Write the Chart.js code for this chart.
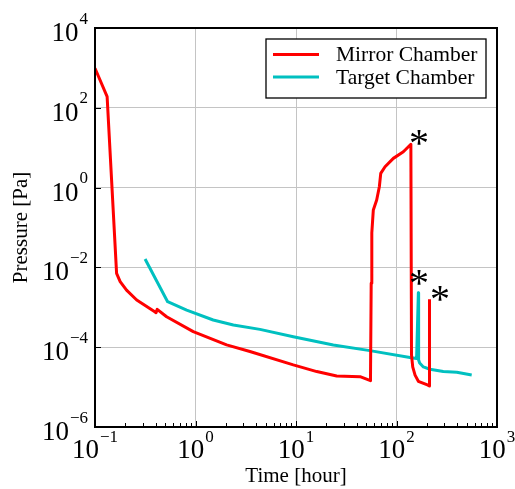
<!DOCTYPE html>
<html>
<head>
<meta charset="utf-8">
<script src="https://cdn.jsdelivr.net/npm/chart.js@4"></script>
<style>
html, body { margin: 0; padding: 0; background: #fff; }
</style>
</head>
<body>
<canvas id="pressureChart" width="515" height="489"></canvas>
<script>
// values (time in hours, pressure in Pa)
var mirrorTime = [0.1, 0.132, 0.164, 0.178, 0.206, 0.26, 0.39, 0.405, 0.416, 0.516, 0.95, 2.04, 3.48,
    9.4, 16.1, 25.4, 43.4, 55.1, 56.0, 56.8, 58.8, 63.5, 67.5, 69.7, 76.9, 93, 117, 139,
    141, 145, 153, 165, 203, 212, 213];
var mirrorPressure = [980, 190, 0.0071, 0.0044, 0.0027, 0.00152, 0.00078, 0.00073, 0.00089, 0.00058, 0.000245, 0.000114, 7.8e-5,
    3.6e-5, 2.45e-5, 1.9e-5, 1.83e-5, 1.45e-5, 0.004, 0.073, 0.275, 0.49, 1.05, 2.28, 3.34, 5.4, 7.9, 12.2,
    6.4e-5, 3.2e-5, 2.0e-5, 1.4e-5, 1.13e-5, 1.07e-5, 0.0016];

var targetTime = [0.315, 0.528, 0.817, 1.5, 2.38, 4.38, 9.4, 23.5, 54.4, 136, 158.5, 165, 166,
    170, 185, 215, 292, 398, 560];
var targetPressure = [0.0162, 0.00138, 0.00085, 0.00048, 0.00036, 0.00028, 0.000183, 0.000114, 8.2e-5, 5.5e-5, 5.2e-5, 0.0023, 4.8e-5,
    4.0e-5, 3.2e-5, 2.8e-5, 2.45e-5, 2.35e-5, 2.0e-5];

var seriesLabels = ["Mirror Chamber", "Target Chamber"];
var seriesColors = ["#ff0000", "#00c0c0"];

var xTickValues = [0.1, 1, 10, 100, 1000];
var yTickValues = [1e-6, 1e-4, 1e-2, 1, 1e2, 1e4];

// asterisk marks next to the spikes
var starTime = [167.5, 167.5, 271];
var starPressure = [18.2, 0.00585, 0.00224];

var serif = "'Liberation Serif', 'Times New Roman', serif";

function toPoints(xs, ys) {
    var pts = [];
    for (var i = 0; i < xs.length; i++) pts.push({ x: xs[i], y: ys[i] });
    return pts;
}

function expText(v) {
    var e = Math.round(Math.log10(v));
    return e < 0 ? "\u2212" + (-e) : String(e);
}

var decorPlugin = {
    id: "decor",
    afterDraw: function (chart) {
        var ctx = chart.ctx;
        var area = chart.chartArea;
        var xs = chart.scales.x, ys = chart.scales.y;
        ctx.save();

        // frame
        ctx.strokeStyle = "#000";
        ctx.lineWidth = 2;
        ctx.strokeRect(area.left, area.top, area.right - area.left, area.bottom - area.top);

        // inward ticks
        ctx.lineWidth = 1;
        for (var k = -1; k < 3; k++) {
            for (var m = 1; m < 10; m++) {
                var px = Math.round(xs.getPixelForValue(m * Math.pow(10, k))) + 0.5;
                var len = m === 1 ? 6 : 4;
                ctx.beginPath();
                ctx.moveTo(px, area.bottom);
                ctx.lineTo(px, area.bottom - len);
                ctx.stroke();
            }
        }
        yTickValues.forEach(function (v) {
            var py = Math.round(ys.getPixelForValue(v)) + 0.5;
            ctx.beginPath();
            ctx.moveTo(area.left, py);
            ctx.lineTo(area.left + 6, py);
            ctx.stroke();
        });

        // tick labels, 10 with a raised exponent
        var bigFont = "27px " + serif, smallFont = "17px " + serif;
        ctx.fillStyle = "#000";
        ctx.textBaseline = "alphabetic";
        yTickValues.forEach(function (v) {
            var py = ys.getPixelForValue(v);
            var ex = expText(v);
            var right = area.left - 7;
            ctx.font = smallFont;
            ctx.textAlign = "right";
            var ew = ctx.measureText(ex).width;
            ctx.fillText(ex, right, py - 4.5);
            ctx.font = bigFont;
            ctx.fillText("10", right - ew - 1, py + 13);
        });
        xTickValues.forEach(function (v) {
            var px = xs.getPixelForValue(v);
            var ex = expText(v);
            ctx.font = bigFont;
            var bw = ctx.measureText("10").width;
            ctx.font = smallFont;
            var ew = ctx.measureText(ex).width;
            var start = px - (bw + 1 + ew) / 2;
            ctx.textAlign = "left";
            ctx.font = bigFont;
            ctx.fillText("10", start, area.bottom + 31);
            ctx.font = smallFont;
            ctx.fillText(ex, start + bw + 1, area.bottom + 14.5);
        });

        // legend box in the upper right
        var lx = 266, ly = 39, lw = 220, lh = 59;
        ctx.fillStyle = "#fff";
        ctx.fillRect(lx, ly, lw, lh);
        ctx.strokeStyle = "#000";
        ctx.lineWidth = 1.3;
        ctx.strokeRect(lx, ly, lw, lh);
        ctx.font = "21.5px " + serif;
        ctx.textAlign = "left";
        ctx.textBaseline = "middle";
        chart.data.datasets.forEach(function (ds, i) {
            var rowY = ly + 15.5 + i * 22.5;
            ctx.strokeStyle = ds.borderColor;
            ctx.lineWidth = 3;
            ctx.beginPath();
            ctx.moveTo(lx + 7, rowY);
            ctx.lineTo(lx + 53, rowY);
            ctx.stroke();
            ctx.fillStyle = "#000";
            ctx.fillText(ds.label, lx + 70, rowY + 1);
        });

        // asterisks
        ctx.font = "40px " + serif;
        ctx.textAlign = "center";
        ctx.textBaseline = "alphabetic";
        for (var s = 0; s < starTime.length; s++) {
            var sx = xs.getPixelForValue(starTime[s]);
            var sy = ys.getPixelForValue(starPressure[s]);
            ctx.fillText("*", sx, sy + 19);
        }
        ctx.restore();
    }
};

var chart = new Chart(document.getElementById("pressureChart"), {
    type: "line",
    data: {
        datasets: [
            { label: seriesLabels[0], data: toPoints(mirrorTime, mirrorPressure), borderColor: seriesColors[0], borderWidth: 3 },
            { label: seriesLabels[1], data: toPoints(targetTime, targetPressure), borderColor: seriesColors[1], borderWidth: 3 }
        ]
    },
    options: {
        responsive: false,
        animation: false,
        layout: { padding: { left: 9, top: 28, right: 18, bottom: 0 } },
        elements: {
            point: { radius: 0, hoverRadius: 0 },
            line: { tension: 0, fill: false, borderJoinStyle: "round" }
        },
        plugins: {
            legend: { display: false },
            tooltip: { enabled: false }
        },
        scales: {
            x: {
                type: "logarithmic",
                min: 0.1,
                max: 1000,
                afterBuildTicks: function (scale) {
                    scale.ticks = xTickValues.map(function (v) { return { value: v, major: true }; });
                },
                ticks: { display: false },
                grid: { color: "#c4c4c4", lineWidth: 1, drawTicks: false },
                border: { display: false },
                title: {
                    display: true,
                    text: "Time [hour]",
                    color: "#000",
                    font: { family: serif, size: 21 },
                    padding: { top: 36.8, bottom: 0 }
                }
            },
            y: {
                type: "logarithmic",
                min: 1e-6,
                max: 1e4,
                afterBuildTicks: function (scale) {
                    scale.ticks = yTickValues.map(function (v) { return { value: v, major: true }; });
                },
                ticks: { display: false },
                grid: { color: "#c4c4c4", lineWidth: 1, drawTicks: false },
                border: { display: false },
                title: {
                    display: true,
                    text: "Pressure [Pa]",
                    color: "#000",
                    font: { family: serif, size: 21 },
                    padding: { top: 0, bottom: 60.8 }
                }
            }
        }
    },
    plugins: [decorPlugin]
});
</script>
</body>
</html>
